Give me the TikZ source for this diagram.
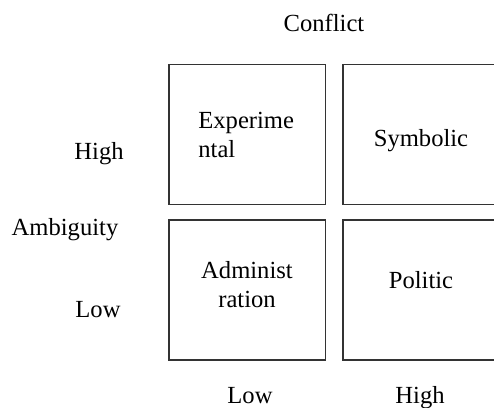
\documentclass[tikz,border=0pt]{standalone}
\usepackage{fontspec}
\setmainfont{Liberation Serif}
\begin{document}
\begin{tikzpicture}[x=0.5pt,y=-0.5pt,node distance=87pt,
		font=\fontsize{12.3}{14.5}\selectfont]
		\tikzstyle{every node}=[inner sep=0pt]
		\tikzstyle{cell}=[draw=black!80,line width=0.75pt,minimum width=78.25pt,minimum height=70pt]
		\clip (0,0) rectangle (494,408);
		
		\node[cell] (exp) at (247.25,134.5)         {};
		\node[cell] (sym) [right of=exp]            {};
		\node[cell] (adm) [below of=exp,node distance=77.75pt] {};
		\node[cell] (pol) [right of=adm]            {};
		
		\node[anchor=north west,align=left] (expt) at (198,112)  {Experime\\ntal};
		\node[anchor=base] (symt) at (421,146)                    {Symbolic};
		\node[anchor=north,align=center] (admt) at (247,261)     {Administ\\ration};
		\node[anchor=base] (polt) at (421,288)                    {Politic};
		
		\node[anchor=base] (conflict) at (324,31)  {Conflict};
		\node[anchor=base] (ahigh) at (99,159)     {High};
		\node[anchor=base] (ambig) at (65,235)     {Ambiguity};
		\node[anchor=base] (alow) at (98,317)      {Low};
		\node[anchor=base] (clow) at (250,403)     {Low};
		\node[anchor=base] (chigh) at (420,403)    {High};
		\end{tikzpicture}
\end{document}
